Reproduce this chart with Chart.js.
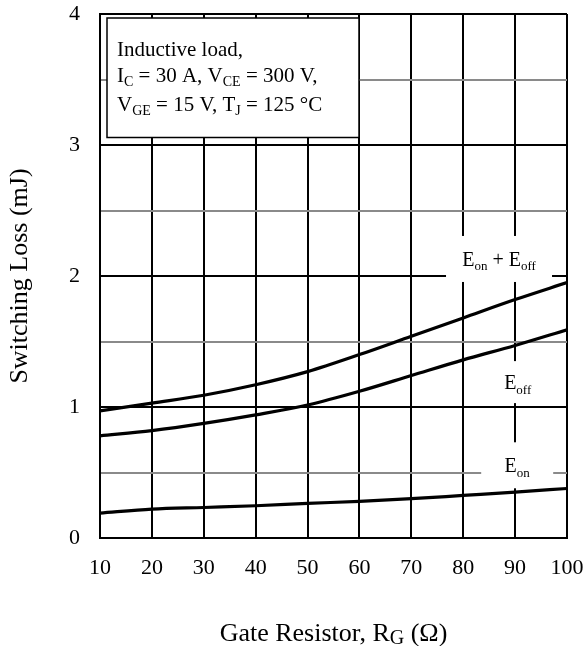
<!DOCTYPE html>
<html>
<head>
<meta charset="utf-8">
<script src="https://cdn.jsdelivr.net/npm/chart.js@4.4.1/dist/chart.umd.min.js"></script>
<style>
  html, body { margin: 0; padding: 0; background: #ffffff; }
  #wrap { width: 588px; height: 646px; }
</style>
</head>
<body>
<div id="wrap"><canvas id="c" width="588" height="646"></canvas></div>
<script>
// ---- data ----
const gateResistor = [10, 20, 30, 40, 50, 60, 70, 80, 90, 100];
const lossTotal = [0.97, 1.03, 1.09, 1.17, 1.27, 1.40, 1.54, 1.68, 1.82, 1.95];
const lossOff   = [0.78, 0.82, 0.875, 0.94, 1.015, 1.12, 1.24, 1.36, 1.47, 1.59];
const lossOn    = [0.19, 0.22, 0.233, 0.246, 0.264, 0.28, 0.30, 0.325, 0.35, 0.378];
const seriesNames = ['Eon + Eoff', 'Eoff', 'Eon'];
const yTickValues = [0, 1, 2, 3, 4];
const xTitle = [['Gate Resistor, R', 0], ['G', 1], [' (\u03A9)', 0]];
const yTitle = 'Switching Loss (mJ)';
const conditionLines = [
  [['Inductive load,', 0]],
  [['I', 0], ['C', 1], [' = 30 A, V', 0], ['CE', 1], [' = 300 V,', 0]],
  [['V', 0], ['GE', 1], [' = 15 V, T', 0], ['J', 1], [' = 125 \u00B0C', 0]]
];
const curveLabels = [
  { segs: [['E', 0], ['on', 1], [' + E', 0], ['off', 1]], x: 86.9, y: 2.13, w: 106, h: 46 },
  { segs: [['E', 0], ['off', 1]], x: 90.5, y: 1.19, w: 66, h: 42 },
  { segs: [['E', 0], ['on', 1]], x: 90.4, y: 0.555, w: 72, h: 46 }
];

const FONT = "'Liberation Serif', 'Times New Roman', serif";

function richWidth(ctx, segs, size, subScale) {
  let w = 0;
  for (const [t, s] of segs) {
    ctx.font = (s ? Math.round(size * subScale) : size) + 'px ' + FONT;
    w += ctx.measureText(t).width;
  }
  return w;
}
function drawRich(ctx, segs, x, y, size, align, subScale = 0.65, subOff = 0.22) {
  const w = richWidth(ctx, segs, size, subScale);
  let cx = align === 'center' ? x - w / 2 : x;
  ctx.textAlign = 'left';
  ctx.textBaseline = 'alphabetic';
  ctx.fillStyle = '#000';
  for (const [t, s] of segs) {
    ctx.font = (s ? Math.round(size * subScale) : size) + 'px ' + FONT;
    ctx.fillText(t, cx, s ? y + size * subOff : y);
    cx += ctx.measureText(t).width;
  }
}

const annotations = {
  id: 'annotations',
  beforeDatasetsDraw(chart) {
    const { ctx, chartArea, scales } = chart;
    ctx.save();
    // condition box
    const bx = chartArea.left + 7, by = chartArea.top + 4, bw = 252, bh = 119.5;
    ctx.fillStyle = '#fff';
    ctx.fillRect(bx, by, bw, bh);
    ctx.strokeStyle = '#000';
    ctx.lineWidth = 1.5;
    ctx.strokeRect(bx, by, bw, bh);
    const baselines = [38, 64, 93];
    conditionLines.forEach((segs, i) => drawRich(ctx, segs, bx + 10, by + baselines[i], 21, 'left', 0.68, 0.18));
    // curve labels with white backgrounds
    curveLabels.forEach(l => {
      const px = scales.x.getPixelForValue(l.x);
      const py = scales.y.getPixelForValue(l.y);
      ctx.fillStyle = '#fff';
      ctx.fillRect(px - l.w / 2, py - l.h / 2, l.w, l.h);
      drawRich(ctx, l.segs, px, py + 7, 20, 'center');
    });
    ctx.restore();
  },
  afterDraw(chart) {
    const { ctx, chartArea } = chart;
    ctx.save();
    drawRich(ctx, xTitle, (chartArea.left + chartArea.right) / 2, 641, 26, 'center', 0.76, 0.1);
    ctx.restore();
  }
};

const lineStyle = {
  borderColor: '#000',
  borderWidth: 3.2,
  pointRadius: 0,
  fill: false,
  tension: 0.4,
  cubicInterpolationMode: 'monotone'
};

new Chart(document.getElementById('c'), {
  type: 'line',
  data: {
    labels: gateResistor,
    datasets: [
      Object.assign({ label: seriesNames[0], data: gateResistor.map((x, i) => ({ x, y: lossTotal[i] })) }, lineStyle),
      Object.assign({ label: seriesNames[1], data: gateResistor.map((x, i) => ({ x, y: lossOff[i] })) }, lineStyle),
      Object.assign({ label: seriesNames[2], data: gateResistor.map((x, i) => ({ x, y: lossOn[i] })) }, lineStyle)
    ]
  },
  options: {
    responsive: false,
    animation: false,
    devicePixelRatio: 1,
    layout: { padding: { top: 14, right: 21, left: 0, bottom: 0 } },
    plugins: { legend: { display: false }, tooltip: { enabled: false } },
    scales: {
      x: {
        type: 'linear',
        min: 10, max: 100,
        afterFit(s) { s.height = 108; s.paddingLeft = 0; s.paddingRight = 0; },
        ticks: {
          stepSize: 10,
          padding: 17,
          color: '#000',
          font: { family: FONT, size: 22 },
          maxRotation: 0
        },
        grid: { color: '#000', lineWidth: 2, drawTicks: false },
        border: { color: '#000', width: 2 }
      },
      y: {
        type: 'linear',
        min: 0, max: 4,
        afterFit(s) { s.width = 100; s.paddingTop = 0; s.paddingBottom = 0; },
        ticks: {
          stepSize: 0.5,
          padding: 20,
          color: '#000',
          font: { family: FONT, size: 22 },
          callback: v => (yTickValues.includes(v) ? String(v) : '')
        },
        grid: {
          color: c => (c.tick && Number.isInteger(c.tick.value) ? '#000' : '#8a8a8a'),
          lineWidth: 2,
          drawTicks: false
        },
        border: { color: '#000', width: 2 },
        title: {
          display: true,
          text: yTitle,
          color: '#000',
          font: { family: FONT, size: 26 },
          padding: { top: 5, bottom: 0 }
        }
      }
    }
  },
  plugins: [annotations]
});
</script>
</body>
</html>
